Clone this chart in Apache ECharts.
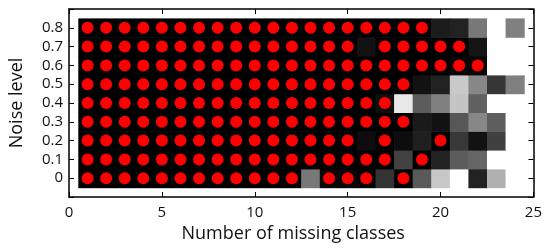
<!DOCTYPE html>
<html>
<head>
  <meta charset="utf-8">
</head>
<body style="margin: 0">
  <div id="container" style="width: 545px; height: 248px"></div>

  <script type="text/javascript" src="https://fastly.jsdelivr.net/npm/echarts@6/dist/echarts.min.js"></script>
  <script type="text/javascript">
    // number of missing classes (columns) and noise levels (rows)
    var missingClasses = [1, 2, 3, 4, 5, 6, 7, 8, 9, 10, 11, 12, 13, 14, 15, 16, 17, 18, 19, 20, 21, 22, 23, 24];
    var noiseLevels = [0, 0.1, 0.2, 0.3, 0.4, 0.5, 0.6, 0.7, 0.8];

    // cell intensity per noise level (0 = black, 1 = white), one entry per column
    var intensity = [
      [0, 0, 0, 0, 0, 0, 0, 0, 0, 0, 0, 0, 0.47, 0.03, 0.03, 0.02, 0.2, 0, 0.35, 0.78, 1, 0.13, 0.69, 1],
      [0, 0, 0, 0, 0, 0, 0, 0, 0, 0, 0, 0, 0, 0, 0, 0, 0, 0.26, 0, 0.13, 0.36, 0.4, 1, 1],
      [0, 0, 0, 0, 0, 0, 0, 0, 0, 0, 0, 0, 0, 0, 0, 0.05, 0, 0.05, 0.12, 0, 0.22, 0.07, 0.25, 1],
      [0, 0, 0, 0, 0, 0, 0, 0, 0, 0, 0, 0, 0, 0, 0, 0, 0, 0, 0.1, 0.07, 0.34, 0.53, 0.37, 1],
      [0, 0, 0, 0, 0, 0, 0, 0, 0, 0, 0, 0, 0, 0, 0, 0, 0.06, 0.91, 0.36, 0.5, 0.77, 0.38, 1, 1],
      [0, 0, 0, 0, 0, 0, 0, 0, 0, 0, 0, 0, 0, 0, 0, 0, 0, 0, 0.07, 0.13, 0.79, 0.53, 0.21, 0.5],
      [0, 0, 0, 0, 0, 0, 0, 0, 0, 0, 0, 0, 0, 0, 0, 0, 0, 0, 0, 0, 0.03, 0.03, 1, 1],
      [0, 0, 0, 0, 0, 0, 0, 0, 0, 0, 0, 0, 0, 0, 0, 0.07, 0, 0, 0, 0, 0, 0.08, 1, 1],
      [0, 0, 0, 0, 0, 0, 0, 0, 0, 0, 0, 0, 0, 0, 0, 0, 0, 0, 0, 0.11, 0.13, 0.47, 1, 0.5]
    ];

    // columns marked with a red dot, per noise level
    var marked = [
      [1, 2, 3, 4, 5, 6, 7, 8, 9, 10, 11, 12, 14, 15, 16, 18],
      [1, 2, 3, 4, 5, 6, 7, 8, 9, 10, 11, 12, 13, 14, 15, 16, 17, 19],
      [1, 2, 3, 4, 5, 6, 7, 8, 9, 10, 11, 12, 13, 14, 15, 17, 20],
      [1, 2, 3, 4, 5, 6, 7, 8, 9, 10, 11, 12, 13, 14, 15, 16, 17, 18],
      [1, 2, 3, 4, 5, 6, 7, 8, 9, 10, 11, 12, 13, 14, 15, 16, 17],
      [1, 2, 3, 4, 5, 6, 7, 8, 9, 10, 11, 12, 13, 14, 15, 16, 17, 18],
      [1, 2, 3, 4, 5, 6, 7, 8, 9, 10, 11, 12, 13, 14, 15, 16, 17, 18, 19, 20, 21, 22],
      [1, 2, 3, 4, 5, 6, 7, 8, 9, 10, 11, 12, 13, 14, 15, 17, 18, 19, 20, 21],
      [1, 2, 3, 4, 5, 6, 7, 8, 9, 10, 11, 12, 13, 14, 15, 16, 17, 18, 19]
    ];

    var xTicks = [0, 5, 10, 15, 20, 25];
    var yTicks = [0, 0.1, 0.2, 0.3, 0.4, 0.5, 0.6, 0.7, 0.8];

    var cells = [];
    var dots = [];
    noiseLevels.forEach(function (y, r) {
      missingClasses.forEach(function (x, c) {
        cells.push([x, y, intensity[r][c]]);
      });
      marked[r].forEach(function (x) {
        dots.push([x, y]);
      });
    });

    var FONT = 'Open Sans';

    function yLabel(v) {
      var r = Math.round(v * 10) / 10;
      return yTicks.indexOf(r) >= 0 ? String(r) : '';
    }
    function xLabel(v) {
      return xTicks.indexOf(Math.round(v)) >= 0 ? String(Math.round(v)) : '';
    }

    var dom = document.getElementById('container');
    var myChart = echarts.init(dom, null, { renderer: 'canvas' });

    var baseAxis = {
      axisLine: { show: true, onZero: false, lineStyle: { color: '#000', width: 1.5 } },
      axisTick: { show: true, inside: true, length: 5, lineStyle: { color: '#000', width: 1 } },
      splitLine: { show: false }
    };

    var option = {
      backgroundColor: '#fff',
      animation: false,
      grid: { left: 68, right: 7, top: 9, bottom: 51 },
      xAxis: [
        Object.assign({}, baseAxis, {
          type: 'value', position: 'bottom', min: 0, max: 25, interval: 5,
          name: 'Number of missing classes', nameLocation: 'middle', nameGap: 28,
          nameTextStyle: { fontFamily: FONT, fontSize: 18, color: '#111', padding: [0, 16, 0, 0] },
          axisLabel: { formatter: xLabel, fontFamily: FONT, fontSize: 15, color: '#111', margin: 8 }
        }),
        Object.assign({}, baseAxis, {
          type: 'value', position: 'top', min: 0, max: 25, interval: 5,
          axisLabel: { show: false }
        })
      ],
      yAxis: [
        Object.assign({}, baseAxis, {
          type: 'value', position: 'left', min: -0.1, max: 0.9, interval: 0.1,
          name: 'Noise level', nameLocation: 'middle', nameGap: 43,
          nameTextStyle: { fontFamily: FONT, fontSize: 18, color: '#111' },
          axisLabel: { formatter: yLabel, fontFamily: FONT, fontSize: 15, color: '#111', margin: 6 }
        }),
        Object.assign({}, baseAxis, {
          type: 'value', position: 'right', min: -0.1, max: 0.9, interval: 0.1,
          axisLabel: { show: false }
        })
      ],
      series: [
        {
          type: 'custom',
          data: cells,
          clip: true,
          renderItem: function (params, api) {
            var p = api.coord([api.value(0) - 0.5, api.value(1) + 0.05]);
            var s = api.size([1, 0.1]);
            var g = Math.round(api.value(2) * 255);
            return {
              type: 'rect',
              shape: { x: p[0], y: p[1], width: s[0] + 0.6, height: s[1] + 0.6 },
              style: { fill: 'rgb(' + g + ',' + g + ',' + g + ')' }
            };
          },
          z: 1
        },
        {
          type: 'scatter',
          data: dots,
          symbol: 'circle',
          symbolSize: 12,
          itemStyle: { color: '#ff0000', opacity: 1 },
          z: 2
        }
      ]
    };

    myChart.setOption(option);
    window.addEventListener('resize', myChart.resize);
  </script>
</body>
</html>
